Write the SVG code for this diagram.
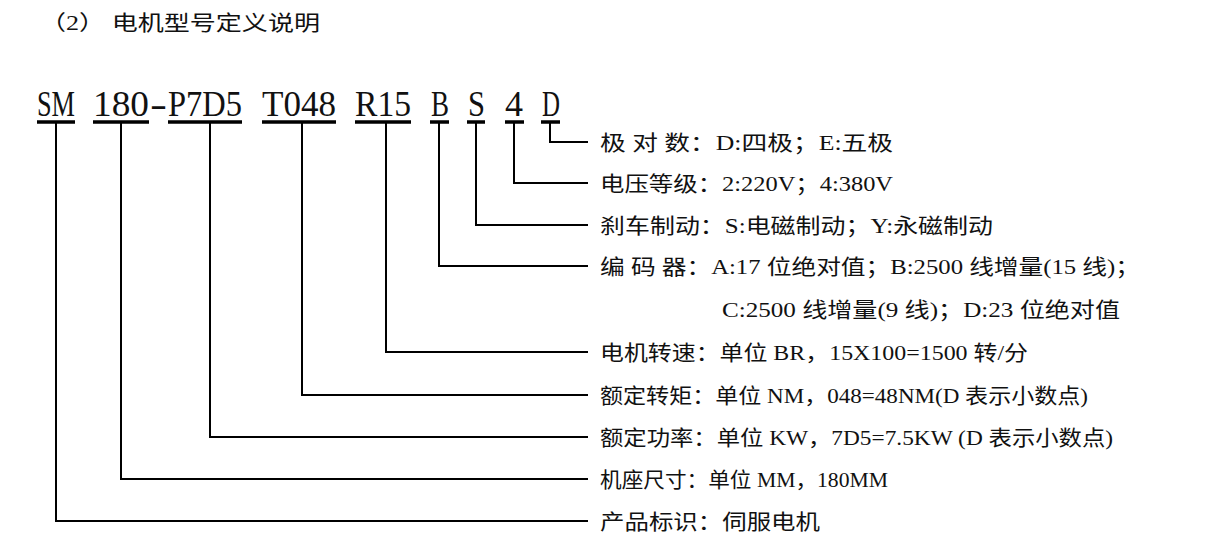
<svg xmlns="http://www.w3.org/2000/svg" width="1216" height="548" viewBox="0 0 1216 548">
<style>
text{font-family:"Liberation Serif","Noto Sans CJK SC",serif;fill:#111}
.c{font-size:36px}
.l{font-size:21px}
.u{stroke:#000;stroke-width:3.5}
.w{stroke:#000;stroke-width:2;fill:none}
</style>
<rect width="1216" height="548" fill="#fff"/>
<text x="40" y="30" class="l" textLength="280" lengthAdjust="spacingAndGlyphs">（2）  电机型号定义说明</text>
<g id="code">
<text x="37" y="116" class="c" textLength="38" lengthAdjust="spacingAndGlyphs">SM</text>
<text x="93" y="116" class="c" textLength="56" lengthAdjust="spacingAndGlyphs">180</text>
<text x="150" y="116" class="c" textLength="17" lengthAdjust="spacingAndGlyphs">-</text>
<text x="168" y="116" class="c" textLength="74" lengthAdjust="spacingAndGlyphs">P7D5</text>
<text x="262" y="116" class="c" textLength="74" lengthAdjust="spacingAndGlyphs">T048</text>
<text x="355" y="116" class="c" textLength="56" lengthAdjust="spacingAndGlyphs">R15</text>
<text x="431" y="116" class="c" textLength="18" lengthAdjust="spacingAndGlyphs">B</text>
<text x="468" y="116" class="c" textLength="17" lengthAdjust="spacingAndGlyphs">S</text>
<text x="505" y="116" class="c" textLength="18" lengthAdjust="spacingAndGlyphs">4</text>
<text x="542" y="116" class="c" textLength="18" lengthAdjust="spacingAndGlyphs">D</text>
<line class="u" x1="37" y1="122" x2="75" y2="122"/>
<line class="u" x1="93" y1="122" x2="149" y2="122"/>
<line class="u" x1="168" y1="122" x2="242" y2="122"/>
<line class="u" x1="262" y1="122" x2="336" y2="122"/>
<line class="u" x1="355" y1="122" x2="411" y2="122"/>
<line class="u" x1="430" y1="122" x2="449" y2="122"/>
<line class="u" x1="467" y1="122" x2="485" y2="122"/>
<line class="u" x1="505" y1="122" x2="524" y2="122"/>
<line class="u" x1="541" y1="122" x2="560" y2="122"/>
</g>
<g id="connectors">
<polyline class="w" points="550,122 550,142 588,142"/>
<polyline class="w" points="514,122 514,183 588,183"/>
<polyline class="w" points="476,122 476,225 588,225"/>
<polyline class="w" points="439,122 439,266 588,266"/>
<polyline class="w" points="386,122 386,352 588,352"/>
<polyline class="w" points="302,122 302,395 588,395"/>
<polyline class="w" points="210,122 210,437 588,437"/>
<polyline class="w" points="121,122 121,479 588,479"/>
<polyline class="w" points="56,122 56,521 588,521"/>
</g>
<g id="labels">
<text x="600" y="150" class="l" textLength="293" lengthAdjust="spacingAndGlyphs">极 对 数：D:四极；E:五极</text>
<text x="600" y="191" class="l" textLength="293" lengthAdjust="spacingAndGlyphs">电压等级：2:220V；4:380V</text>
<text x="600" y="233" class="l" textLength="393" lengthAdjust="spacingAndGlyphs">刹车制动：S:电磁制动；Y:永磁制动</text>
<text x="600" y="274" class="l" textLength="540" lengthAdjust="spacingAndGlyphs">编 码 器：A:17 位绝对值；B:2500 线增量(15 线)；</text>
<text x="722" y="317" class="l" textLength="398" lengthAdjust="spacingAndGlyphs">C:2500 线增量(9 线)；D:23 位绝对值</text>
<text x="600" y="360" class="l" textLength="428" lengthAdjust="spacingAndGlyphs">电机转速：单位 BR，15X100=1500 转/分</text>
<text x="600" y="403" class="l" textLength="488" lengthAdjust="spacingAndGlyphs">额定转矩：单位 NM，048=48NM(D 表示小数点)</text>
<text x="600" y="445" class="l" textLength="513" lengthAdjust="spacingAndGlyphs">额定功率：单位 KW，7D5=7.5KW (D 表示小数点)</text>
<text x="600" y="487" class="l" textLength="288" lengthAdjust="spacingAndGlyphs">机座尺寸：单位 MM，180MM</text>
<text x="600" y="529" class="l" textLength="220" lengthAdjust="spacingAndGlyphs">产品标识：伺服电机</text>
</g>
</svg>
